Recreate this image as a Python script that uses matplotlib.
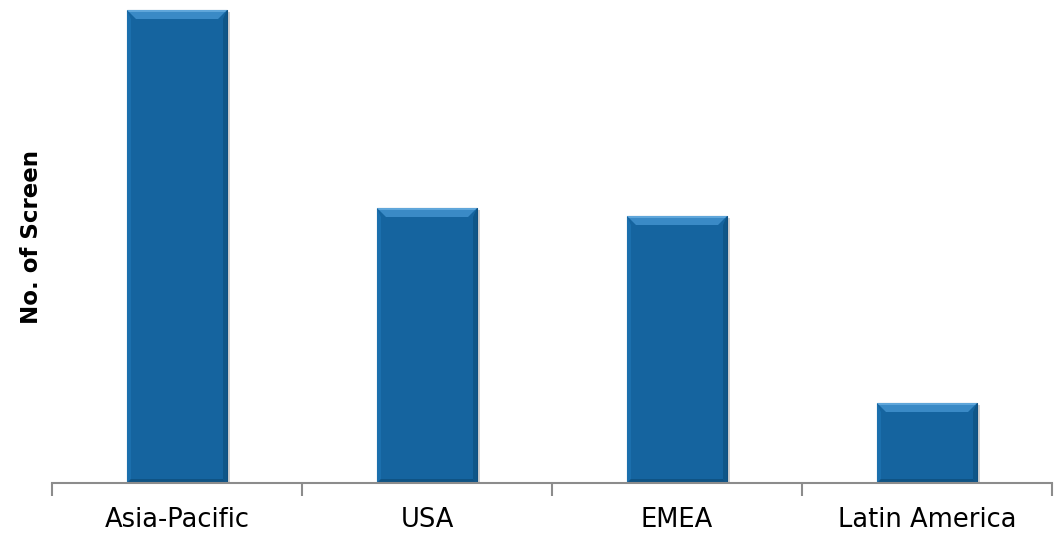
import matplotlib
matplotlib.use("Agg")
import matplotlib.pyplot as plt
from matplotlib.patches import Polygon
import numpy as np

categories = ["Asia-Pacific", "USA", "EMEA", "Latin America"]
values = [47.3, 27.5, 26.7, 8.0]
ylabel = "No. of Screen"

plt.rcParams['font.family'] = ['DejaVu Sans']

W, H = 1061, 534
fig = plt.figure(figsize=(W / 100, H / 100), dpi=100)
ax = fig.add_axes([52 / W, (H - 483) / H, 1000 / W, 483 / H])

x = np.arange(len(categories))
bw = 0.4
ax.set_xlim(-0.5, len(categories) - 0.5)
ax.set_ylim(0, 48.3)

# pixel -> data conversions
px_x = (len(categories)) / 1000.0
px_y = 48.3 / 483.0

main = "#15649F"
# shadow
ax.bar(x + 3 * px_x, values, width=bw, bottom=-2 * px_y, color="#000000", alpha=0.18, zorder=1)
bars = ax.bar(x, values, width=bw, color=main, edgecolor="#0E4F80", linewidth=0.8, zorder=2)

bev_x = 9 * px_x
bev_y = 9 * px_y
side = 4 * px_x
for xi, v in zip(x, values):
    l, r = xi - bw / 2, xi + bw / 2
    # top bevel (lighter)
    ax.add_patch(Polygon([(l, v), (r, v), (r - bev_x, v - bev_y), (l + bev_x, v - bev_y)],
                         closed=True, facecolor="#3A8AC6", edgecolor="none", zorder=3))
    # thin highlight line at the very top
    ax.add_patch(Polygon([(l, v), (r, v), (r - 2 * px_x, v - 2 * px_y), (l + 2 * px_x, v - 2 * px_y)],
                         closed=True, facecolor="#5FA6DA", edgecolor="none", zorder=4))
    # left bevel
    ax.add_patch(Polygon([(l, v), (l + side, v - bev_y), (l + side, 4 * px_y), (l, 0)],
                         closed=True, facecolor="#1B6FAD", edgecolor="none", zorder=3))
    # right bevel (darker)
    ax.add_patch(Polygon([(r, v), (r - side, v - bev_y), (r - side, 4 * px_y), (r, 0)],
                         closed=True, facecolor="#0F5688", edgecolor="none", zorder=3))
    # bottom bevel (darker)
    ax.add_patch(Polygon([(l, 0), (r, 0), (r - side, 4 * px_y), (l + side, 4 * px_y)],
                         closed=True, facecolor="#0F5384", edgecolor="none", zorder=3))

for s in ["top", "right", "left"]:
    ax.spines[s].set_visible(False)
ax.spines["bottom"].set_color("#8C8C8C")
ax.spines["bottom"].set_linewidth(1.5)
ax.spines["bottom"].set_zorder(5)

ax.set_xticks(np.arange(len(categories) + 1) - 0.5)
ax.set_xticklabels([])
ax.tick_params(axis="x", which="major", length=9, width=1.5, color="#8C8C8C", direction="out")
ax.set_xticks(x, minor=True)
ax.set_xticklabels(categories, minor=True, fontsize=18.5, color="#000000")
ax.tick_params(axis="x", which="minor", length=0, pad=17.5)
ax.set_yticks([])

fig.text(32 / W, 1 - 237 / H, ylabel, rotation=90, fontsize=16.5, fontweight="bold",
         ha="center", va="center")

fig.savefig("out.png", dpi=100)
